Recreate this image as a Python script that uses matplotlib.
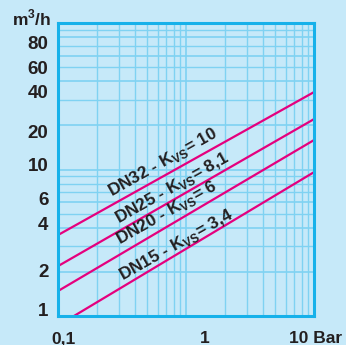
import matplotlib
matplotlib.use('Agg')
import matplotlib.pyplot as plt
from matplotlib.ticker import FixedLocator, NullFormatter, LogLocator
from matplotlib.transforms import ScaledTranslation

plt.rcParams['font.family'] = ['Liberation Sans', 'DejaVu Sans']
plt.rcParams['mathtext.fontset'] = 'custom'
plt.rcParams['mathtext.rm'] = 'Liberation Sans'

# pressure drop (bar) at the two ends of the chart
pressure = [0.1, 10]
# flow (m3/h) at those pressures
valves = ['DN32', 'DN25', 'DN20', 'DN15']
kvs = ['10', '8,1', '6', '3,4']
flow_lo = [3.57, 2.19, 1.48, 0.86]
flow_hi = [33.8, 22.1, 15.9, 9.6]
# label centre (pressure, flow) for each curve
label_x = [0.66, 0.78, 0.71, 0.835]
label_y = [11.1, 7.5, 5.05, 3.05]

y_ticks = [1, 2, 4, 6, 10, 20, 40, 60, 80]
y_label_shift = [6, 1, 4, 4, 5, -6, -10, -12, -5]  # px up, labels are hand placed in the original
x_ticks = [0.1, 1, 10]
x_ticklabels = ['0,1', '1', '10 Bar']
x_label_shift = [6, 19, 2]  # px right

bg = '#c6e9f9'
grid_col = '#7fd2f2'
edge_col = '#16b1ea'
line_col = '#e5007e'
text_col = '#231f20'

fig = plt.figure(figsize=(3.46, 3.45), dpi=100, facecolor=bg)
ax = fig.add_axes([0.1676, 0.0841, 0.74, 0.849], facecolor=bg)
ax.set_xscale('log')
ax.set_yscale('log')
ax.set_xlim(0.1, 10)
ax.set_ylim(1, 100)

for q0, q1 in zip(flow_lo, flow_hi):
    ax.plot(pressure, [q0, q1], color=line_col, lw=1.6, solid_capstyle='butt')

for name, k, lx, ly in zip(valves, kvs, label_x, label_y):
    ax.text(lx, ly, name + r' - K$_{\mathregular{VS}}$= ' + k, rotation=29.5,
            rotation_mode='anchor', ha='center', va='center',
            fontsize=12.3, fontweight='bold', color=text_col)

ax.yaxis.set_major_locator(FixedLocator(y_ticks))
ax.set_yticklabels([str(v) for v in y_ticks])
ax.yaxis.set_minor_locator(LogLocator(base=10, subs=[3, 5, 7, 8, 9]))
ax.yaxis.set_minor_formatter(NullFormatter())
ax.xaxis.set_major_locator(FixedLocator(x_ticks))
ax.set_xticklabels(x_ticklabels)
ax.xaxis.set_minor_locator(LogLocator(base=10, subs=range(2, 10)))
ax.xaxis.set_minor_formatter(NullFormatter())

ax.grid(True, which='major', color=grid_col, lw=1.2)
ax.grid(True, which='minor', color=grid_col, lw=1.0)
ax.tick_params(which='both', length=0)
ax.tick_params(axis='y', pad=7, labelsize=13.5, labelcolor=text_col)
ax.tick_params(axis='x', pad=11, labelsize=12.5, labelcolor=text_col)
for lab in ax.get_xticklabels() + ax.get_yticklabels():
    lab.set_fontweight('bold')
for lab, dx in zip(ax.get_xticklabels(), x_label_shift):
    lab.set_transform(lab.get_transform() + ScaledTranslation(dx / 100, 0, fig.dpi_scale_trans))
for lab, dy in zip(ax.get_yticklabels(), y_label_shift):
    lab.set_transform(lab.get_transform() + ScaledTranslation(0, dy / 100, fig.dpi_scale_trans))

for s in ax.spines.values():
    s.set_color(edge_col)
    s.set_linewidth(2.2)

fig.text(0.036, 1 - 25 / 345, r'm$^{\mathregular{3}}$/h', fontsize=12.5, fontweight='bold',
         color=text_col, va='baseline')

fig.savefig('out.png', dpi=100, facecolor=bg)
